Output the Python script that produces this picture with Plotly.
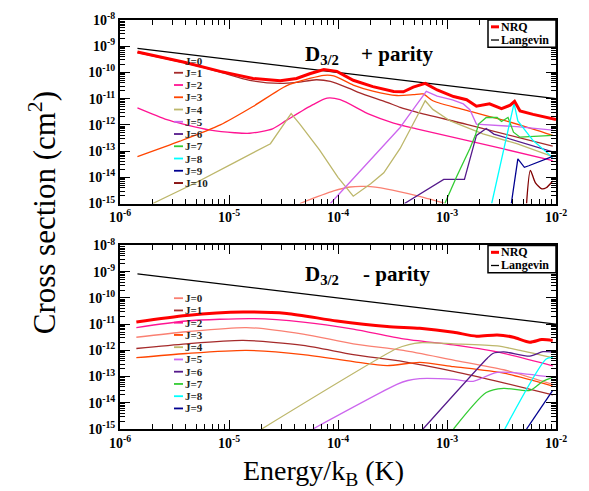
import numpy as np
import plotly.graph_objects as go

# ---------------- data (log10 energy in K, log10 cross section in cm^2) ----------------
# Langevin line (same in both panels)
lang_logE = [-5.84, -2.0]
lang_logS = [-9.08, -11.0]

# ---- + parity ----
nrqP_logE = [-5.84, -5.42, -5.08, -4.78, -4.53, -4.38, -4.26, -4.13, -4.01, -3.86, -3.68, -3.49, -3.40,
             -3.31, -3.20, -3.09, -2.94, -2.82, -2.73, -2.61, -2.50, -2.42, -2.38, -2.33, -2.21, -2.00]
nrqP_logS = [-9.22, -9.60, -9.96, -10.23, -10.32, -10.23, -10.05, -9.89, -9.96, -10.30, -10.54, -10.73, -10.74,
             -10.56, -10.42, -10.67, -10.92, -11.04, -11.29, -11.20, -11.38, -11.25, -11.10, -11.47, -11.60, -11.80]

p0_logE = [-4.35, -4.04, -3.89, -3.74, -3.55, -3.28, -3.03]
p0_logS = [-15.0, -14.52, -14.37, -14.35, -14.45, -14.70, -14.98]
p1_logE = [-5.84, -5.42, -5.08, -4.81, -4.53, -4.38, -4.20, -4.07, -3.89, -3.80, -3.55, -3.43, -3.28, -2.82, -2.03]
p1_logS = [-9.24, -9.62, -9.99, -10.30, -10.42, -10.38, -10.28, -10.34, -10.62, -10.78, -11.14, -11.33, -11.51, -11.98, -12.81]
p2_logE = [-5.84, -5.57, -5.42, -5.17, -4.95, -4.81, -4.60, -4.47, -4.23, -4.10, -3.98, -3.71, -3.49, -3.28, -2.50, -2.03]
p2_logS = [-11.35, -11.80, -11.97, -12.20, -12.30, -12.32, -12.15, -11.82, -11.23, -10.98, -11.04, -11.60, -11.93, -12.15, -12.90, -13.36]
p3_logE = [-5.84, -5.45, -5.08, -4.78, -4.47, -4.26, -4.13, -4.04, -3.86, -3.68, -3.46, -3.31, -3.22, -3.13,
           -2.82, -2.51, -2.21, -2.03]
p3_logS = [-13.21, -12.62, -12.00, -11.30, -10.50, -10.23, -10.11, -10.13, -10.48, -10.71, -10.88, -10.85, -10.82, -11.08,
           -11.45, -11.79, -12.16, -12.40]
p4_logE = [-5.70, -5.30, -4.96, -4.62, -4.43, -4.35, -4.17, -4.00, -3.86, -3.70, -3.58, -3.43, -3.28, -3.20,
           -3.13, -2.97, -2.67, -2.36, -2.03]
p4_logS = [-15.0, -14.20, -13.46, -12.72, -11.57, -11.97, -12.95, -14.0, -14.72, -14.25, -13.83, -12.90, -11.72, -11.08,
           -11.41, -11.85, -12.34, -12.72, -13.21]
p5_logE = [-4.07, -3.74, -3.43, -3.37, -3.28, -3.19, -3.09, -2.95, -2.85, -2.79, -2.73, -2.36, -2.03]
p5_logS = [-15.0, -13.50, -12.10, -11.75, -11.25, -10.72, -10.90, -11.05, -11.20, -11.42, -11.97, -12.07, -12.20]
p6_logE = [-3.39, -3.03, -2.84, -2.73, -2.64, -2.57, -2.03]
p6_logS = [-15.0, -14.08, -14.08, -12.40, -12.14, -12.35, -13.03]
p7_logE = [-3.02, -2.91, -2.79, -2.74, -2.71, -2.64, -2.54, -2.50, -2.44, -2.39, -2.33, -2.03]
p7_logS = [-15.0, -13.96, -12.90, -12.40, -11.97, -11.72, -11.72, -11.87, -11.72, -12.28, -12.47, -12.40]
p8_logE = [-2.59, -2.48, -2.385, -2.35, -2.21, -2.03]
p8_logS = [-15.0, -12.96, -11.18, -11.85, -12.60, -13.25]
p9_logE = [-2.41, -2.35, -2.29, -2.25, -2.03]
p9_logS = [-15.0, -13.30, -13.62, -13.56, -13.20]
p10_logE = [-2.27, -2.235, -2.19, -2.13, -2.09, -2.03]
p10_logS = [-15.0, -13.74, -14.20, -14.44, -14.40, -14.14]

# ---- - parity ----
nrqM_logE = [-5.85, -5.39, -4.87, -4.47, -4.01, -3.55, -3.25, -2.94, -2.73, -2.54, -2.39, -2.24, -2.13, -2.03]
nrqM_logS = [-10.92, -10.67, -10.54, -10.59, -10.88, -11.09, -11.16, -11.31, -11.46, -11.41, -11.50, -11.69, -11.59, -11.62]

m0_logE = [-5.85, -5.39, -4.84, -4.32, -3.86, -3.40, -2.94, -2.48, -2.03]
m0_logS = [-11.50, -11.29, -11.13, -11.38, -11.75, -12.00, -12.37, -12.74, -13.30]
m1_logE = [-5.85, -5.39, -4.87, -4.32, -3.86, -3.40, -2.94, -2.48, -2.03]
m1_logS = [-11.93, -11.75, -11.62, -11.81, -12.16, -12.43, -12.80, -13.24, -13.70]
m2_logE = [-5.85, -5.39, -4.78, -4.32, -3.86, -3.40, -2.94, -2.54, -2.03]
m2_logS = [-11.13, -10.88, -10.79, -10.92, -11.19, -11.56, -11.79, -12.06, -12.59]
m3_logE = [-5.85, -5.39, -4.84, -4.32, -3.86, -3.55, -3.25, -2.94, -2.48, -2.03]
m3_logS = [-12.28, -12.12, -12.00, -12.16, -12.43, -12.58, -12.46, -12.62, -12.87, -13.36]
m4_logE = [-4.70, -3.46, -3.35, -3.25, -2.94, -2.54, -2.33, -2.03]
m4_logS = [-15.0, -11.93, -11.78, -11.71, -11.75, -11.83, -12.00, -12.28]
m5_logE = [-4.23, -3.46, -3.36, -3.25, -2.94, -2.76, -2.54, -2.03]
m5_logS = [-15.0, -13.30, -13.15, -13.08, -13.11, -13.18, -12.84, -13.03]
m6_logE = [-3.22, -2.63, -2.58, -2.48, -2.24, -2.12, -2.03]
m6_logS = [-15.0, -12.30, -12.12, -12.06, -12.22, -12.05, -12.06]
m7_logE = [-2.94, -2.64, -2.48, -2.24, -2.12, -2.03]
m7_logS = [-15.0, -13.61, -13.45, -13.53, -13.18, -13.03]
m8_logE = [-2.47, -2.09, -2.03]
m8_logS = [-15.0, -12.33, -12.28]
m9_logE = [-2.27, -2.03]
m9_logS = [-15.0, -13.53]

J_colors = ["#fa8072", "#a52a2a", "#ff1493", "#ff4500", "#bdb76b", "#cc66ee",
            "#551a8b", "#33cc33", "#00ffff", "#000090", "#800000"]

plus_curves = [(p0_logE, p0_logS), (p1_logE, p1_logS), (p2_logE, p2_logS), (p3_logE, p3_logS),
               (p4_logE, p4_logS), (p5_logE, p5_logS), (p6_logE, p6_logS), (p7_logE, p7_logS),
               (p8_logE, p8_logS), (p9_logE, p9_logS), (p10_logE, p10_logS)]
plus_smooth = [True, True, True, True, False, False, False, False, False, False, True]
minus_curves = [(m0_logE, m0_logS), (m1_logE, m1_logS), (m2_logE, m2_logS), (m3_logE, m3_logS),
                (m4_logE, m4_logS), (m5_logE, m5_logS), (m6_logE, m6_logS), (m7_logE, m7_logS),
                (m8_logE, m8_logS), (m9_logE, m9_logS)]

x_tick_vals = [1e-6, 1e-5, 1e-4, 1e-3, 1e-2]
x_tick_text = ["<b>10<sup>-6</sup></b>", "<b>10<sup>-5</sup></b>", "<b>10<sup>-4</sup></b>",
               "<b>10<sup>-3</sup></b>", "<b>10<sup>-2</sup></b>"]
y_tick_vals = [1e-15, 1e-14, 1e-13, 1e-12, 1e-11, 1e-10, 1e-9, 1e-8]
y_tick_text = ["<b>10<sup>-15</sup></b>", "<b>10<sup>-14</sup></b>", "<b>10<sup>-13</sup></b>",
               "<b>10<sup>-12</sup></b>", "<b>10<sup>-11</sup></b>", "<b>10<sup>-10</sup></b>",
               "<b>10<sup>-9</sup></b>", "<b>10<sup>-8</sup></b>"]

# ---------------- figure ----------------
FONT = "Liberation Serif"
W, H = 589, 491
ML, MR, MT, MB = 120, 33, 10, 62
PW, PH = W - ML - MR, H - MT - MB


def pxx(px):
    return (px - ML) / PW


def pxy(py):
    return (H - MB - py) / PH


top_dom = [pxy(198), 1.0]
bot_dom = [0.0, pxy(241)]

fig = go.Figure()


def add_line(lx, ly, color, width, xa, ya, smooth=False):
    ln = dict(color=color, width=width)
    if smooth:
        ln.update(shape="spline", smoothing=0.7)
    fig.add_trace(go.Scatter(x=np.power(10.0, lx), y=np.power(10.0, ly), mode="lines",
                             line=ln, xaxis=xa, yaxis=ya, showlegend=False, hoverinfo="skip"))


for j, (lx, ly) in enumerate(plus_curves):
    add_line(lx, ly, J_colors[j], 1.3, "x", "y", plus_smooth[j])
add_line(lang_logE, lang_logS, "black", 1.3, "x", "y")
add_line(nrqP_logE, nrqP_logS, "#ff0000", 3, "x", "y")

for j, (lx, ly) in enumerate(minus_curves):
    add_line(lx, ly, J_colors[j], 1.3, "x2", "y2", True)
add_line(lang_logE, lang_logS, "black", 1.3, "x2", "y2")
add_line(nrqM_logE, nrqM_logS, "#ff0000", 3, "x2", "y2", True)

tickfont = dict(family=FONT, size=14, color="black")
common_x = dict(type="log", range=[-6, -2], tickmode="array", tickvals=x_tick_vals, ticktext=x_tick_text,
                ticks="inside", ticklen=9, tickwidth=1.3, tickcolor="black", mirror="allticks",
                showline=True, linecolor="black", linewidth=2, showgrid=False, zeroline=False,
                tickfont=tickfont,
                minor=dict(ticks="inside", ticklen=5, tickcolor="black", tickwidth=1, dtick="D1", showgrid=False))
common_y = dict(type="log", range=[-15, -8], tickmode="array", tickvals=y_tick_vals, ticktext=y_tick_text,
                ticks="inside", ticklen=10, tickwidth=1.3, tickcolor="black", mirror="allticks",
                showline=True, linecolor="black", linewidth=2, showgrid=False, zeroline=False,
                tickfont=tickfont,
                minor=dict(ticks="inside", ticklen=5, tickcolor="black", tickwidth=1, dtick="D1", showgrid=False))

fig.update_layout(
    width=W, height=H, margin=dict(l=ML, r=MR, t=MT, b=MB),
    paper_bgcolor="white", plot_bgcolor="white", showlegend=False,
    xaxis=dict(domain=[0, 1], anchor="y", **common_x),
    yaxis=dict(domain=top_dom, anchor="x", **common_y),
    xaxis2=dict(domain=[0, 1], anchor="y2", **common_x),
    yaxis2=dict(domain=bot_dom, anchor="x2", **common_y),
)

annotations = []
shapes = []

# panel labels
for py, sign in [(46, "+"), (271, "-")]:
    annotations.append(dict(xref="paper", yref="paper", x=pxx(322), y=pxy(py), xanchor="center", yanchor="middle",
                            text="<b>D<sub>3/2</sub></b>", showarrow=False,
                            font=dict(family=FONT, size=21, color="black")))
    annotations.append(dict(xref="paper", yref="paper", x=pxx(397), y=pxy(py - 1), xanchor="center",
                            yanchor="middle", text="<b>%s parity</b>" % sign, showarrow=False,
                            font=dict(family=FONT, size=21, color="black")))

# NRQ / Langevin boxed legends
for top in [10, 241]:
    shapes.append(dict(type="rect", xref="paper", yref="paper", x0=pxx(488), x1=pxx(556), y0=pxy(top + 28),
                       y1=pxy(top), line=dict(color="black", width=1.5), fillcolor="white", layer="above"))
    for k, (name, col, wd) in enumerate([("NRQ", "#ff0000", 3), ("Langevin", "black", 1.3)]):
        yy = top + 7 + 13.5 * k
        shapes.append(dict(type="line", xref="paper", yref="paper", x0=pxx(491), x1=pxx(499), y0=pxy(yy),
                           y1=pxy(yy), line=dict(color=col, width=wd), layer="above"))
        annotations.append(dict(xref="paper", yref="paper", x=pxx(499.5), y=pxy(yy), xanchor="left",
                                yanchor="middle", text="<b>%s</b>" % name, showarrow=False,
                                borderpad=0, font=dict(family=FONT, size=12, color="black")))

# J legends (top panel J=0 sample line is not visible in the original)
for y0, n, first_line in [(51.5, 11, 1), (295, 10, 0)]:
    for j in range(n):
        yy = y0 + 12.55 * j
        if j >= first_line:
            shapes.append(dict(type="line", xref="paper", yref="paper", x0=pxx(174), x1=pxx(183), y0=pxy(yy),
                               y1=pxy(yy), line=dict(color=J_colors[j], width=1.8), layer="above"))
        annotations.append(dict(xref="paper", yref="paper", x=pxx(183.5), y=pxy(yy), xanchor="left",
                                yanchor="middle", text="<b>J=%d</b>" % j, showarrow=False,
                                borderpad=0,
                                font=dict(family=FONT, size=11, color="#222")))

# axis titles
annotations.append(dict(xref="paper", yref="paper", x=pxx(323), y=pxy(474), xanchor="center", yanchor="middle",
                        text="Energy/k<sub>B</sub> (K)", showarrow=False, borderpad=0,
                        font=dict(family=FONT, size=28, color="black")))
annotations.append(dict(xref="paper", yref="paper", x=pxx(42), y=pxy(208), xanchor="center", yanchor="middle",
                        text="Cross section (cm<sup>2</sup>)", textangle=-90, showarrow=False,
                        font=dict(family=FONT, size=31, color="black")))

fig.update_layout(annotations=annotations, shapes=shapes)
fig.write_html("out.html")
